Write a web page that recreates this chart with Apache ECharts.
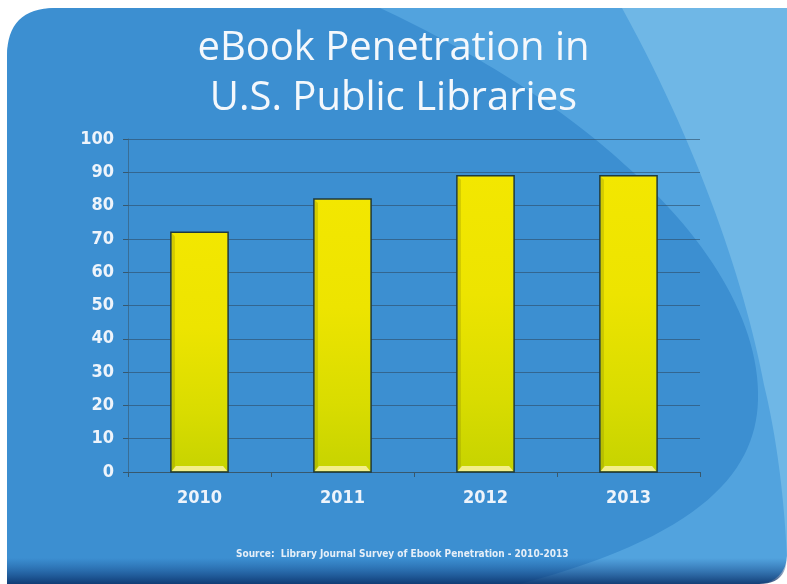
<!DOCTYPE html>
<html>
<head>
<meta charset="utf-8">
<style>
  html, body { margin: 0; padding: 0; background: #ffffff; }
  #chart { width: 787px; height: 584px; }
</style>
<script src="https://cdn.jsdelivr.net/npm/echarts@6/dist/echarts.min.js"></script>
</head>
<body>
<div id="chart"></div>
<script>
// Survey years and share of U.S. public libraries offering eBooks (%)
const years = ['2010', '2011', '2012', '2013'];
const penetration = [72, 82, 89, 89];
const yTicks = { min: 0, max: 100, step: 10 };

const titleText = 'eBook Penetration in\nU.S. Public Libraries';
const sourceText = 'Source:  Library Journal Survey of Ebook Penetration - 2010-2013';

const chart = echarts.init(document.getElementById('chart'));

// Outline helpers for the decorative backdrop shapes
function cubic(p0, c1, c2, p1, n) {
  const pts = [];
  for (let i = 1; i <= n; i++) {
    const t = i / n, u = 1 - t;
    pts.push([
      u * u * u * p0[0] + 3 * u * u * t * c1[0] + 3 * u * t * t * c2[0] + t * t * t * p1[0],
      u * u * u * p0[1] + 3 * u * u * t * c1[1] + 3 * u * t * t * c2[1] + t * t * t * p1[1]
    ]);
  }
  return pts;
}
function quad(p0, c, p1, n) {
  const pts = [];
  for (let i = 1; i <= n; i++) {
    const t = i / n, u = 1 - t;
    pts.push([u * u * p0[0] + 2 * u * t * c[0] + t * t * p1[0], u * u * p0[1] + 2 * u * t * c[1] + t * t * p1[1]]);
  }
  return pts;
}

// Deep-blue sweep covering the left and centre of the slide
const mainSweep = [[7, 56]]
  .concat(quad([7, 56], [7, 8], [55, 8], 16))
  .concat([[380, 8]])
  .concat(cubic([380, 8], [470, 50], [560, 105], [625, 165], 30))
  .concat(cubic([625, 165], [705, 235], [760, 320], [758, 400], 30))
  .concat(cubic([758, 400], [756, 470], [705, 535], [520, 584], 30))
  .concat([[7, 584]]);

// Pale sweep along the right edge
const paleSweep = [[622, 8], [787, 8], [787, 560]]
  .concat(cubic([787, 560], [784, 490], [775, 430], [764, 385], 24))
  .concat(cubic([764, 385], [745, 285], [700, 150], [622, 8], 30));

// White fill outside the rounded bottom-right corner
const cornerMask = [[787, 584], [759, 584]].concat(quad([759, 584], [787, 584], [787, 556], 12));

const barFill = new echarts.graphic.LinearGradient(0, 0, 0, 1, [
  { offset: 0, color: '#f3e700' },
  { offset: 0.4, color: '#ede400' },
  { offset: 0.75, color: '#d9dc00' },
  { offset: 1, color: '#c6d300' }
]);

// Bevelled bar: gradient body, pale bottom lip and a shaded left edge
function renderBar(params, api) {
  const top = api.coord([api.value(0), api.value(1)]);
  const base = api.coord([api.value(0), 0]);
  const w = api.size([1, 0])[0] * 0.4;
  const x0 = top[0] - w / 2;
  const h = base[1] - top[1];
  return {
    type: 'group',
    children: [
      {
        type: 'rect',
        shape: { x: x0, y: top[1], width: w, height: h },
        style: { fill: barFill, stroke: '#1f3a3e', lineWidth: 1.5 }
      },
      {
        type: 'polygon',
        shape: { points: [[x0 + 1, top[1] + 1], [x0 + 4, top[1] + 4], [x0 + 4, base[1] - 6], [x0 + 1, base[1] - 1]] },
        style: { fill: 'rgba(140,140,0,0.30)' }
      },
      {
        type: 'polygon',
        shape: { points: [[x0 + 1, base[1] - 1], [x0 + w - 1, base[1] - 1], [x0 + w - 5, base[1] - 6], [x0 + 5, base[1] - 6]] },
        style: { fill: '#f3ee8a' }
      }
    ]
  };
}

const option = {
  backgroundColor: '#ffffff',
  animation: false,
  title: {
    text: titleText,
    left: 'center',
    top: 19,
    textStyle: {
      color: '#f4f8fc',
      fontFamily: 'Open Sans',
      fontWeight: 'normal',
      fontSize: 40,
      lineHeight: 50
    }
  },
  graphic: [
    { // slide body
      type: 'rect', z: -20, silent: true,
      shape: { x: 7, y: 8, width: 780, height: 576, r: [48, 0, 28, 0] },
      style: { fill: '#52a3de' }
    },
    {
      type: 'polygon', z: -19, silent: true,
      shape: { points: mainSweep },
      style: { fill: '#3c8fd1' }
    },
    {
      type: 'polygon', z: -18, silent: true,
      shape: { points: paleSweep },
      style: { fill: '#6fb7e6' }
    },
    { // darkening along the bottom edge
      type: 'rect', z: -17, silent: true,
      shape: { x: 7, y: 558, width: 780, height: 26 },
      style: {
        fill: new echarts.graphic.LinearGradient(0, 0, 0, 1, [
          { offset: 0, color: 'rgba(20,70,140,0)' },
          { offset: 1, color: 'rgba(8,45,100,0.85)' }
        ])
      }
    },
    {
      type: 'polygon', z: -16, silent: true,
      shape: { points: cornerMask },
      style: { fill: '#ffffff' }
    },
    {
      type: 'text', z: 5, silent: true,
      left: 236, top: 549,
      style: {
        text: sourceText,
        fill: '#e6eff8',
        font: 'bold 10px "DejaVu Sans Condensed"'
      }
    }
  ],
  grid: { left: 128, right: 87, top: 139, bottom: 112 },
  xAxis: {
    type: 'category',
    data: years,
    boundaryGap: true,
    axisLine: { lineStyle: { color: '#37586e', width: 1 } },
    axisTick: { show: true, length: 5, lineStyle: { color: '#37586e' } },
    axisLabel: {
      color: '#eef4fb', fontSize: 18, fontWeight: 'bold',
      fontFamily: 'DejaVu Sans Condensed', margin: 17
    },
    splitLine: { show: false }
  },
  yAxis: {
    type: 'value',
    min: yTicks.min, max: yTicks.max, interval: yTicks.step,
    axisLine: { show: true, lineStyle: { color: 'rgba(55,88,110,0.6)' } },
    axisTick: { show: true, length: 5, lineStyle: { color: '#37586e' } },
    axisLabel: {
      color: '#eef4fb', fontSize: 18, fontWeight: 'bold',
      fontFamily: 'DejaVu Sans Condensed', margin: 14
    },
    splitLine: { show: true, lineStyle: { color: 'rgba(45,75,100,0.6)', width: 1 } }
  },
  series: [{
    type: 'custom',
    renderItem: renderBar,
    encode: { x: 0, y: 1 },
    data: penetration.map((v, i) => [i, v]),
    z: 3
  }]
};

chart.setOption(option);
</script>
</body>
</html>
